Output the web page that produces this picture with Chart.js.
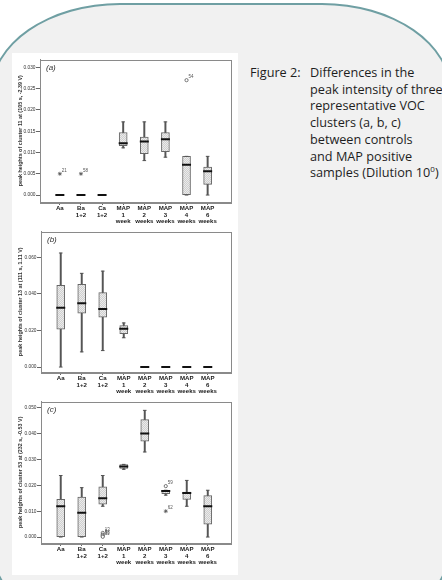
<!DOCTYPE html>
<html><head><meta charset="utf-8">
<script src="https://cdn.jsdelivr.net/npm/chart.js@4.4.0/dist/chart.umd.min.js"></script>
<style>
html,body{margin:0;padding:0;width:442px;height:580px;overflow:hidden;background:#fff;position:relative;}
#panel{position:absolute;left:-10px;top:3px;width:462px;height:632px;background:#f1f1f1;border:2px solid #6f9fa3;border-radius:130px / 90px;box-sizing:border-box;}
#white{position:absolute;left:12px;top:53px;width:226px;height:522px;background:#fff;}
canvas{position:absolute;}
.cap{position:absolute;font-family:"Open Sans";font-size:12.7px;color:#1e1e1e;line-height:16.7px;white-space:nowrap;}
.cap sup{font-size:8px;line-height:0;vertical-align:5px;}
</style></head>
<body>
<div id="panel"></div>
<div id="white"></div>
<canvas id="ca" width="226" height="172" style="left:12px;top:53px"></canvas>
<canvas id="cb" width="226" height="170" style="left:12px;top:225px"></canvas>
<canvas id="cc" width="226" height="175" style="left:12px;top:395px"></canvas>
<div class="cap" style="left:250px;top:64px">Figure 2:</div>
<div class="cap" style="left:310px;top:64px">Differences in the<br>peak intensity of three<br>representative VOC<br>clusters (a, b, c)<br>between controls<br>and MAP positive<br>samples (Dilution 10<sup>0</sup>)</div>
<script>
const categories = [['Aa'],['Ba','1+2'],['Ca','1+2'],['MAP','1','week'],['MAP','2','weeks'],['MAP','3','weeks'],['MAP','4','weeks'],['MAP','6','weeks']];

// Panel (a): cluster 11
const aWhiskerLow  = [0, 0, 0, 0.0111, 0.0081, 0.0089, 0, 0];
const aQ1          = [0, 0, 0, 0.0116, 0.0097, 0.0102, 0, 0.0025];
const aMedian      = [0, 0, 0, 0.0122, 0.0126, 0.0131, 0.0071, 0.0056];
const aQ3          = [0, 0, 0, 0.0147, 0.0136, 0.0147, 0.0091, 0.0066];
const aWhiskerHigh = [0, 0, 0, 0.0172, 0.0172, 0.0172, 0.0091, 0.0091];
const aOutlierCats   = [0, 1, 6];
const aOutlierValues = [0.005, 0.005, 0.027];
const aOutlierLabels = ['21', '58', '54'];
const aOutlierKinds  = ['extreme', 'extreme', 'outlier'];
const aTicks = [0, 0.005, 0.010, 0.015, 0.020, 0.025, 0.030];
const aTitle = 'peak heights of cluster 11 at (105 s, -2.39 V)';

// Panel (b): cluster 13
const bWhiskerLow  = [0, 0.0083, 0.0090, 0.0160, 0, 0, 0, 0];
const bQ1          = [0.0207, 0.0294, 0.0272, 0.0182, 0, 0, 0, 0];
const bMedian      = [0.0324, 0.0348, 0.0317, 0.0209, 0, 0, 0, 0];
const bQ3          = [0.0447, 0.0452, 0.0407, 0.0227, 0, 0, 0, 0];
const bWhiskerHigh = [0.0623, 0.0512, 0.0524, 0.0241, 0, 0, 0, 0];
const bOutlierCats   = [];
const bOutlierValues = [];
const bOutlierLabels = [];
const bOutlierKinds  = [];
const bTicks = [0, 0.020, 0.040, 0.060];
const bTitle = 'peak heights of cluster 13 at (111 s, 1.11 V)';

// Panel (c): cluster 53
const cWhiskerLow  = [0, 0, 0.0119, 0.0262, 0.0329, 0.0162, 0.0119, 0];
const cQ1          = [0, 0, 0.0127, 0.0265, 0.0371, 0.0168, 0.0146, 0.0050];
const cMedian      = [0.0119, 0.0094, 0.0150, 0.0273, 0.0400, 0.0178, 0.0170, 0.0119];
const cQ3          = [0.0146, 0.0155, 0.0194, 0.0280, 0.0454, 0.0181, 0.0174, 0.0160];
const cWhiskerHigh = [0.0238, 0.0191, 0.0238, 0.0281, 0.0490, 0.0181, 0.0219, 0.0181];
const cOutlierCats   = [2, 2, 2, 2, 5, 5];
const cOutlierValues = [0.0016, 0.0009, 0.0005, 0.0001, 0.0197, 0.0100];
const cOutlierLabels = ['13', '3', '58', '11', '59', '62'];
const cOutlierKinds  = ['outlier', 'outlier', 'outlier', 'outlier', 'outlier', 'extreme'];
const cTicks = [0, 0.010, 0.020, 0.030, 0.040, 0.050];
const cTitle = 'peak heights of cluster 53 at (232 s, -0.53 V)';

const FONT = '"Liberation Sans", Arial, sans-serif';

// stipple fill for boxes
function makePattern() {
  const p = document.createElement('canvas');
  p.width = 2; p.height = 2;
  const g = p.getContext('2d');
  g.fillStyle = '#ebebeb'; g.fillRect(0, 0, 2, 2);
  g.fillStyle = '#cfcfcf'; g.fillRect(0, 0, 1, 1); g.fillRect(1, 1, 1, 1);
  return g.createPattern(p, 'repeat');
}
const boxFill = makePattern();

const framePlugin = {
  id: 'frame',
  beforeDatasetsDraw(chart) {
    const a = chart.chartArea, ctx = chart.ctx;
    ctx.save();
    ctx.strokeStyle = '#8a8a8a';
    ctx.lineWidth = 1;
    ctx.strokeRect(Math.round(a.left) + 0.5, Math.round(a.top) + 0.5, Math.round(a.right - a.left) - 1, Math.round(a.bottom - a.top));
    ctx.restore();
  },
  afterDatasetsDraw(chart, args, opts) {
    const a = chart.chartArea, ctx = chart.ctx;
    ctx.save();
    ctx.fillStyle = '#333';
    ctx.font = 'italic 8px ' + FONT;
    ctx.textBaseline = 'middle';
    ctx.fillText(opts.panel, a.left + 6, a.top + 8);
    // outlier case labels
    ctx.font = '4.5px ' + FONT;
    ctx.fillStyle = '#555';
    const xs = chart.scales.x, ys = chart.scales.y;
    opts.cats.forEach((c, i) => {
      const px = xs.getPixelForValue(c), py = ys.getPixelForValue(opts.values[i]);
      ctx.fillText(opts.labels[i], px + 2, py - 3);
    });
    ctx.restore();
  }
};

function makePanel(id, panel, wLo, q1, med, q3, wHi, oCats, oVals, oLabels, oKinds, ticks, title, yMin, yMax, padTop, yWidth, xHeight) {
  const pts = (arr) => arr.map((v, i) => ({x: i, y: v}));
  const outlierPts = oCats.map((c, i) => ({x: c, y: oVals[i]}));
  new Chart(document.getElementById(id), {
    type: 'bar',
    data: {
      datasets: [
        { type: 'bar', data: wLo.map((v, i) => ({x: i, y: [v, wHi[i]]})), backgroundColor: '#555', borderWidth: 0, barThickness: 1.3, grouped: false, order: 5 },
        { type: 'bar', data: q1.map((v, i) => ({x: i, y: [v, q3[i]]})), backgroundColor: boxFill, borderColor: '#666', borderWidth: 1, borderSkipped: false, barThickness: 8, grouped: false, order: 4 },
        { type: 'scatter', data: pts(wLo), pointStyle: 'line', radius: 1.8, borderColor: '#555', borderWidth: 1, order: 3 },
        { type: 'scatter', data: pts(wHi), pointStyle: 'line', radius: 1.8, borderColor: '#555', borderWidth: 1, order: 3 },
        { type: 'scatter', data: pts(med), pointStyle: 'line', radius: 4.5, borderColor: '#111', borderWidth: 2, order: 2 },
        { type: 'scatter', data: outlierPts,
          pointStyle: oKinds.map(k => k === 'extreme' ? 'star' : 'circle'),
          radius: oKinds.map(k => k === 'extreme' ? 2 : 1.6),
          backgroundColor: '#fff', borderColor: '#555', borderWidth: 0.8, order: 1 }
      ]
    },
    options: {
      responsive: false, animation: false, events: [],
      layout: { padding: { top: padTop, right: 5, left: 0, bottom: 0 } },
      plugins: {
        legend: { display: false }, tooltip: { enabled: false },
        frame: { panel: panel, cats: oCats, values: oVals, labels: oLabels }
      },
      scales: {
        x: {
          type: 'linear', min: -0.94, max: 8.13, offset: false,
          afterBuildTicks: s => { s.ticks = categories.map((c, i) => ({value: i})); },
          afterFit: s => { s.height = xHeight; },
          grid: { offset: false, drawOnChartArea: false, drawTicks: true, tickLength: 3, color: '#666' },
          border: { display: true, color: '#8a8a8a' },
          ticks: { autoSkip: false, maxRotation: 0, minRotation: 0, padding: 0.3, color: '#1a1a1a',
            font: { family: FONT, size: 6.1, weight: 'bold', lineHeight: 1.04 },
            callback: v => categories[v] }
        },
        y: {
          type: 'linear', min: yMin, max: yMax,
          afterBuildTicks: s => { s.ticks = ticks.map(v => ({value: v})); },
          afterFit: s => { s.width = yWidth; },
          grid: { drawOnChartArea: false, drawTicks: true, tickLength: 4, color: '#666' },
          border: { display: true, color: '#8a8a8a' },
          ticks: { padding: 0.5, color: '#333', font: { family: FONT, size: 4.8 },
            callback: v => v.toFixed(3) },
          title: { display: true, text: title, color: '#333',
            font: { family: FONT, size: 5.4, weight: 'bold', lineHeight: 1.2 },
            padding: { top: 5.6, bottom: 0 } }
        }
      }
    },
    plugins: [framePlugin]
  });
}

makePanel('ca', '(a)', aWhiskerLow, aQ1, aMedian, aQ3, aWhiskerHigh, aOutlierCats, aOutlierValues, aOutlierLabels, aOutlierKinds, aTicks, aTitle, -0.00163, 0.03186, 5, 28, 23);
makePanel('cb', '(b)', bWhiskerLow, bQ1, bMedian, bQ3, bWhiskerHigh, bOutlierCats, bOutlierValues, bOutlierLabels, bOutlierKinds, bTicks, bTitle, -0.0027, 0.07405, 5, 29, 23);
makePanel('cc', '(c)', cWhiskerLow, cQ1, cMedian, cQ3, cWhiskerHigh, cOutlierCats, cOutlierValues, cOutlierLabels, cOutlierKinds, cTicks, cTitle, -0.0023, 0.05242, 6, 29, 27);
</script>
</body></html>
